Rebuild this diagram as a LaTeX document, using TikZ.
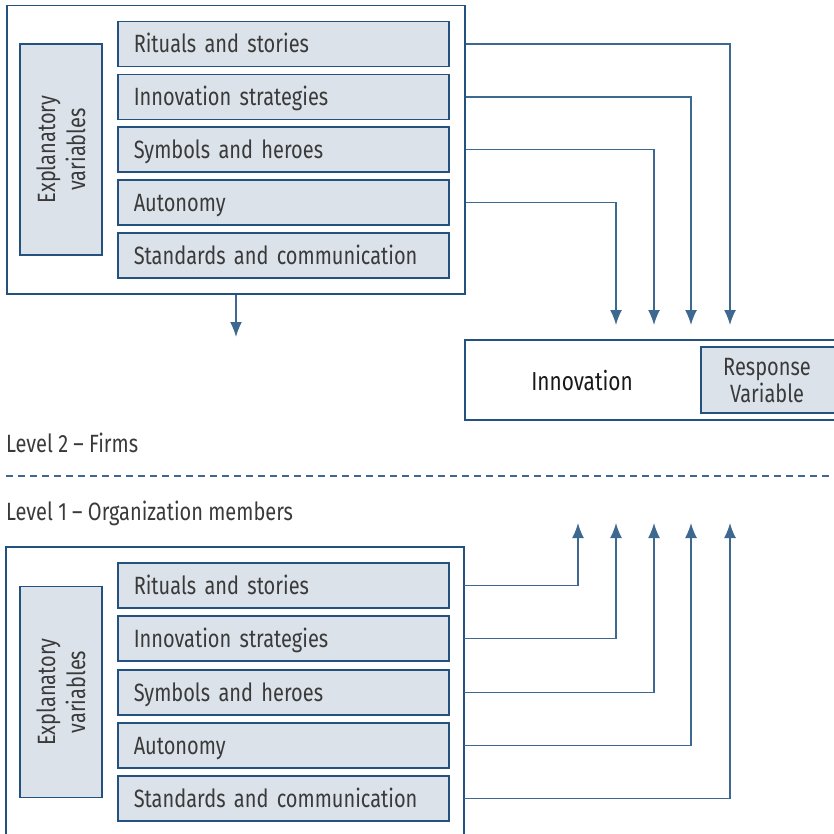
\documentclass[tikz,border=0pt]{standalone}
\usepackage{fontspec}
\setmainfont{Fira Sans}[FakeStretch=0.8]
\usetikzlibrary{arrows.meta}
\definecolor{navy}{HTML}{24527F}
\definecolor{paleblue}{HTML}{DBE2E9}
\definecolor{inkgrey}{HTML}{3A3A3A}
\definecolor{linkblue}{HTML}{3D6890}
\tikzset{
    txt/.style ={font=\fontsize{25}{30}\selectfont, text=inkgrey},
    frame/.style ={draw=navy, line width=1.5pt},
    item/.style ={frame, txt, fill=paleblue, anchor=west, minimum height=45pt,
        text width=299pt, text height=22pt, text depth=4pt,
        inner xsep=16pt, inner ysep=0pt, align=left},
    expl/.style ={frame, txt, fill=paleblue, rotate=90, minimum width=211pt,
        minimum height=82pt, align=center, inner sep=0pt},
    link/.style ={draw=linkblue, line width=1.5pt, -{Latex[length=15pt,width=12pt]}},
    lvl/.style ={txt, anchor=west, inner sep=0pt}}
\begin{document}
\begin{tikzpicture}[x=1pt,y=-1pt]
    \useasboundingbox (0,0) rectangle (833,834);
    % level 2 - firms
    \node[frame, anchor=north west, minimum width=458pt, minimum height=288pt] (topbox) at (6,5) {};
    \node[expl] (texpl) at (61,149.5) {Explanatory\\variables};
    \node[item] (t1) at (117,44) {Rituals and stories};
    \node[item] (t2) at (117,97) {Innovation strategies};
    \node[item] (t3) at (117,149.5) {Symbols and heroes};
    \node[item] (t4) at (117,202.5) {Autonomy};
    \node[item] (t5) at (117,255.5) {Standards and communication};
    \coordinate (down) at (236,337);
    \draw[link] (topbox.south -| down)--(down);
    % response
    \path[frame] (842,340) -| (465,420) -- (842,420);
    \node[txt, text=black!90, font=\fontsize{26}{30}\selectfont] (innov) at (582,381) {Innovation};
    \path[frame, fill=paleblue] (842,347) -| (701,413) -- (842,413);
    \node[txt, align=center, inner sep=0pt] (resp) at (767,381) {Response\\[-3pt]Variable};
    \foreach \n/\x in {1/730,2/691,3/654,4/616}{
        \coordinate (dn\n) at (\x,325);
        \draw[link] (t\n.east -| topbox.east) -| (dn\n);}
    % levels
    \node[lvl] (lev2) at (6,443) {Level 2 -- Firms};
    \coordinate (dl) at (6,476);
    \coordinate (dr) at (833,476);
    \draw[draw=linkblue, line width=1.2pt, dash pattern=on 7pt off 5pt] (dl)--(dr);
    \node[lvl] (lev1) at (6,513) {Level 1 -- Organization members};
    % level 1 - members
    \path[frame] (6,840) |- (464,547) coordinate (botbox) -- (464,840);
    \node[expl] (bexpl) at (61,692) {Explanatory\\variables};
    \node[item] (b1) at (117,585.5) {Rituals and stories};
    \node[item] (b2) at (117,638.5) {Innovation strategies};
    \node[item] (b3) at (117,692.5) {Symbols and heroes};
    \node[item] (b4) at (117,745.5) {Autonomy};
    \node[item] (b5) at (117,798.5) {Standards and communication};
    \foreach \n/\x in {1/578,2/616,3/654,4/691,5/730}{
        \coordinate (up\n) at (\x,523);
        \draw[link] (b\n.east -| botbox) -| (up\n);}
\end{tikzpicture}
\end{document}
